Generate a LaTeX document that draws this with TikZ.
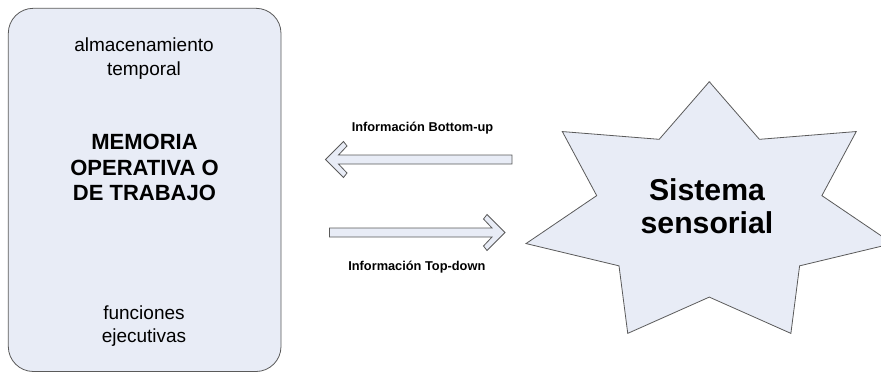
\documentclass[tikz,border=0pt]{standalone}
\usepackage{fontspec}
\setmainfont{Liberation Sans}
\usetikzlibrary{arrows.meta}
\definecolor{panelfill}{RGB}{232,236,246}
\definecolor{edgegray}{RGB}{90,90,90}

\begin{document}
\begin{tikzpicture}[x=1pt, y=-1pt,
    panel/.style={draw=edgegray, fill=panelfill, line width=0.8pt},
    small/.style={inner sep=0pt, align=center, font=\fontsize{19}{23.3}\selectfont},
    title/.style={inner sep=0pt, align=center, font=\bfseries\fontsize{22}{25.5}\selectfont},
    tag/.style={inner sep=0pt, anchor=base, font=\bfseries\fontsize{12.8}{15}\selectfont}]
    \useasboundingbox (0,0) rectangle (881,372);

    % Memory box
    \draw[panel, rounded corners=25pt] (8.3,8.3) rectangle (281,371.5);
    \node[small] (store) at (144,58.5) {almacenamiento\\temporal};
    \node[title] (mem) at (144.5,167.5) {MEMORIA\\OPERATIVA O\\DE TRABAJO};
    \node[small] (exec) at (144,326) {funciones\\ejecutivas};

    % Sensory star
    \draw[panel] (709.3,81.7)
        \foreach \k in {0,...,6} {
            -- ({709.3+115.5*cos(115.71+\k*51.43)}, {214.1-83*sin(115.71+\k*51.43)})
            -- ({709.3+188*cos(90+(\k+1)*51.43)}, {214.1-132.4*sin(90+(\k+1)*51.43)})
        } -- cycle;
    \node[inner sep=0pt, align=center, font=\bfseries\fontsize{30.2}{33.3}\selectfont]
        (sens) at (707,206) {Sistema\\sensorial};

    % Bottom-up arrow
    \draw[panel] (325.5,159.5) -- (343.5,141.5) -- (347,146) -- (338.5,155) -- (512,155)
        -- (512,164) -- (338.5,164) -- (347,173) -- (343.5,177.5) -- cycle;
    \node[tag] (up) at (422.5,131.5) {Información Bottom-up};

    % Top-down arrow
    \draw[panel] (505,232.5) -- (487,214.5) -- (483.5,219) -- (492,228) -- (329.5,228)
        -- (329.5,237) -- (492,237) -- (483.5,246) -- (487,250.5) -- cycle;
    \node[tag] (down) at (416.8,270) {Información Top-down};
\end{tikzpicture}
\end{document}
